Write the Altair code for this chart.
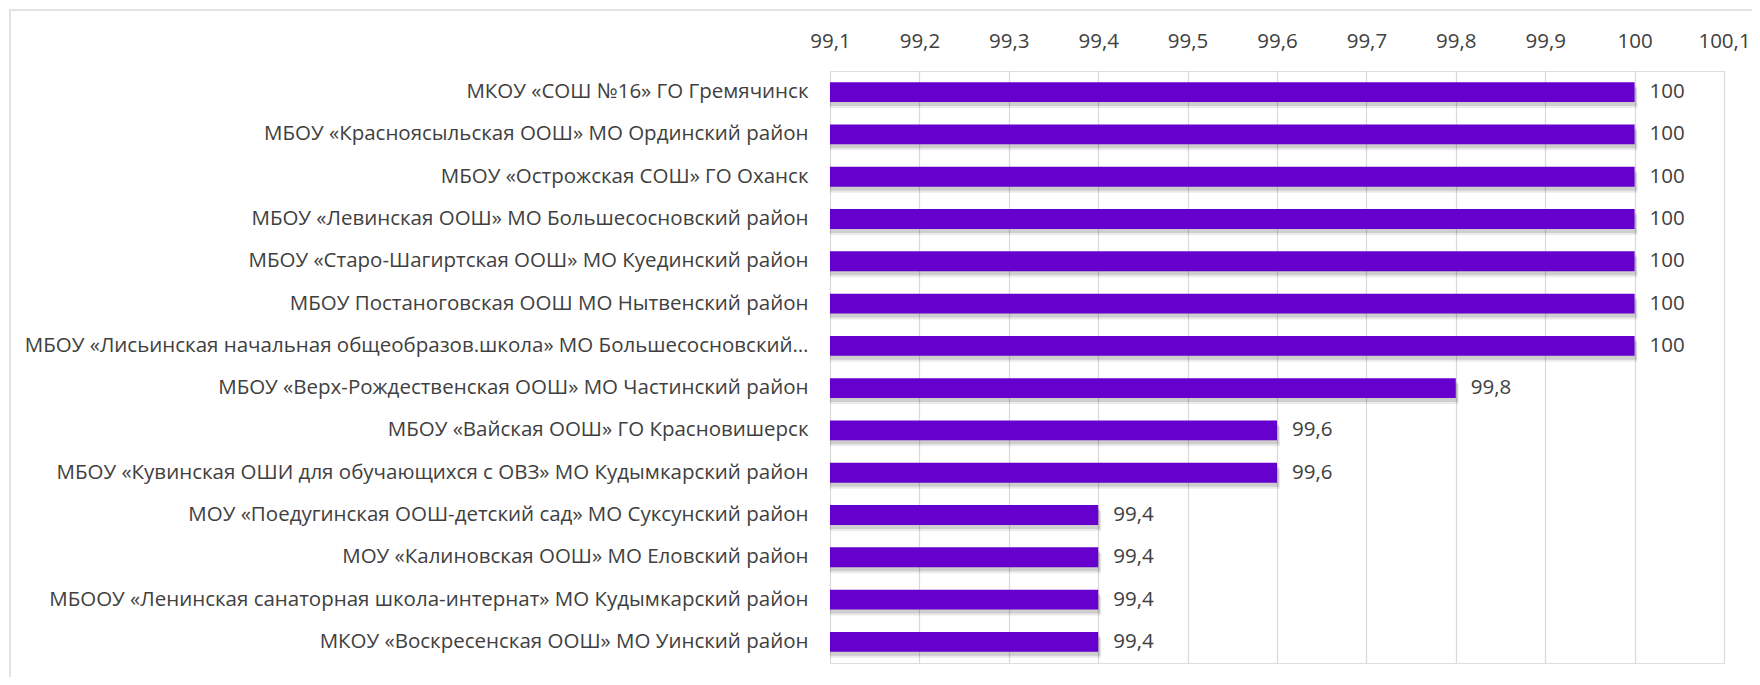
import altair as alt
import pandas as pd

schools = [
    "МКОУ «СОШ №16» ГО Гремячинск",
    "МБОУ «Красноясыльская ООШ» МО Ординский район",
    "МБОУ «Острожская СОШ» ГО Оханск",
    "МБОУ «Левинская ООШ» МО Большесосновский район",
    "МБОУ «Старо-Шагиртская ООШ» МО Куединский район",
    "МБОУ Постаноговская ООШ МО Нытвенский район",
    "МБОУ «Лисьинская начальная общеобразов.школа» МО Большесосновский…",
    "МБОУ «Верх-Рождественская ООШ» МО Частинский район",
    "МБОУ «Вайская ООШ» ГО Красновишерск",
    "МБОУ «Кувинская ОШИ для обучающихся с ОВЗ» МО Кудымкарский район",
    "МОУ «Поедугинская ООШ-детский сад» МО Суксунский район",
    "МОУ «Калиновская ООШ» МО Еловский район",
    "МБООУ «Ленинская санаторная школа-интернат» МО Кудымкарский район",
    "МКОУ «Воскресенская ООШ» МО Уинский район",
]
values = [100, 100, 100, 100, 100, 100, 100, 99.8, 99.6, 99.6, 99.4, 99.4, 99.4, 99.4]
tick_values = [99.1, 99.2, 99.3, 99.4, 99.5, 99.6, 99.7, 99.8, 99.9, 100.0, 100.1]

df = pd.DataFrame({"school": schools, "value": values})
df["label"] = df["value"].map(lambda v: ("%g" % v).replace(".", ","))

FONT = "Open Sans"
FS = 20.5
W, H = 894, 592

x = alt.X(
    "value:Q",
    scale=alt.Scale(domain=[99.1, 100.1], nice=False, zero=False, clamp=False),
    axis=alt.Axis(
        orient="top", values=tick_values, title=None, domain=False, ticks=False,
        labelFlush=False,
        labelExpr="replace(format(datum.value, '.4~r'), '.', ',')",
        labelFont=FONT, labelFontSize=FS, labelColor="#404040", labelPadding=20,
        gridColor="#d9d9d9", gridWidth=1.2,
    ),
)
y = alt.Y(
    "school:N", sort=None,
    scale=alt.Scale(paddingInner=0.53, paddingOuter=0.265),
    axis=alt.Axis(
        title=None, domain=False, ticks=False, labelLimit=1200,
        labelFont=FONT, labelFontSize=FS, labelColor="#404040", labelPadding=22,
    ),
)

base = alt.Chart(df)

shadow = base.mark_bar(color="#000000", opacity=0.12, yOffset=4, xOffset=2).encode(
    x=x, x2=alt.datum(99.1), y=y
)
shadow2 = base.mark_bar(color="#000000", opacity=0.08, yOffset=6, xOffset=3).encode(
    x=x, x2=alt.datum(99.1), y=y
)
bars = base.mark_bar(color="#6600CC").encode(x=x, x2=alt.datum(99.1), y=y)
labels = base.mark_text(
    align="left", dx=15, font=FONT, fontSize=FS, color="#404040"
).encode(x=x, y=y, text="label:N")

frame_top = alt.Chart(pd.DataFrame({"a": [0]})).mark_rule(color="#d9d9d9", strokeWidth=1.5).encode(
    x=alt.value(-821), x2=alt.value(W + 40), y=alt.value(-61)
)
frame_left = alt.Chart(pd.DataFrame({"a": [0]})).mark_rule(color="#d9d9d9", strokeWidth=1.5).encode(
    x=alt.value(-820), x2=alt.value(-820), y=alt.value(-61), y2=alt.value(H + 20)
)

chart = (
    alt.layer(shadow2, shadow, bars, labels, frame_top, frame_left)
    .properties(
        width=W, height=H,
        autosize=alt.AutoSizeParams(type="none"),
        padding={"left": 822, "top": 63, "right": 28, "bottom": 14},
    )
    .configure_view(stroke=None)
    .configure(background="white")
)

chart.save("out.html", embed_options={"renderer": "svg", "actions": False})
